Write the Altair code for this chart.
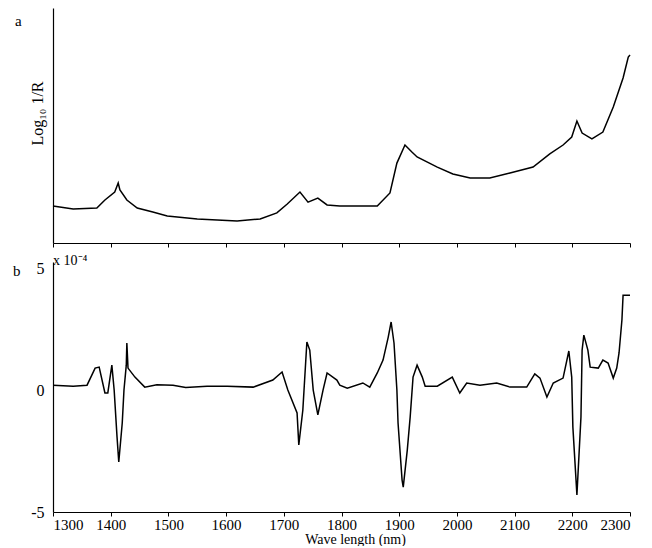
import altair as alt
import pandas as pd

# ---- data ----
ticks_x = [1300, 1400, 1500, 1600, 1700, 1800, 1900, 2000, 2100, 2200, 2300]

# panel a: log10(1/R) spectrum (arbitrary units, axis unlabeled)
wl_a = [1300, 1335, 1376, 1390, 1407, 1413, 1416, 1428, 1446, 1473,
        1498, 1550, 1619, 1659, 1688, 1706, 1728, 1742, 1759, 1775,
        1797, 1862, 1884, 1896, 1910, 1922, 1931, 1966, 1993, 2023,
        2057, 2092, 2132, 2161, 2184, 2199, 2208, 2217, 2234, 2253,
        2271, 2288, 2297, 2300]
logr = [0.157, 0.145, 0.149, 0.183, 0.217, 0.255, 0.226, 0.183, 0.149, 0.132,
        0.115, 0.102, 0.094, 0.102, 0.128, 0.166, 0.217, 0.174, 0.191, 0.162,
        0.157, 0.157, 0.213, 0.340, 0.417, 0.387, 0.366, 0.323, 0.294, 0.277,
        0.277, 0.298, 0.323, 0.379, 0.417, 0.451, 0.519, 0.468, 0.443, 0.472,
        0.579, 0.702, 0.791, 0.800]

# panel b: derivative spectrum (x 10^-4)
wl_b = [1300, 1335, 1359, 1373, 1380, 1390, 1395, 1402, 1406, 1411,
        1414, 1420, 1423, 1427, 1428, 1430, 1442, 1459, 1480, 1508,
        1530, 1567, 1602, 1647, 1681, 1697, 1707, 1723, 1726, 1733,
        1740, 1745, 1751, 1759, 1768, 1775, 1792, 1797, 1810, 1837,
        1849, 1862, 1872, 1881, 1886, 1891, 1896, 1898, 1905, 1907,
        1914, 1919, 1924, 1931, 1940, 1945, 1966, 1992, 2005, 2017,
        2040, 2069, 2092, 2121, 2135, 2144, 2156, 2167, 2184, 2194,
        2199, 2201, 2208, 2215, 2217, 2220, 2227, 2231, 2245, 2253,
        2262, 2271, 2277, 2281, 2286, 2288, 2300]
d2 = [0.20, 0.16, 0.20, 0.90, 0.94, -0.12, -0.12, 1.02, 0.00, -1.93,
      -2.95, -1.35, 0.00, 1.02, 1.93, 0.90, 0.53, 0.12, 0.22, 0.20,
      0.10, 0.16, 0.16, 0.12, 0.41, 0.74, 0.00, -0.94, -2.25, -0.82,
      1.97, 1.64, 0.00, -1.02, 0.00, 0.70, 0.41, 0.20, 0.08, 0.29,
      0.12, 0.70, 1.23, 2.17, 2.79, 1.93, 0.00, -1.35, -3.69, -3.98,
      -2.46, -1.11, 0.53, 1.02, 0.53, 0.16, 0.16, 0.53, -0.12, 0.29,
      0.20, 0.29, 0.12, 0.12, 0.66, 0.49, -0.29, 0.29, 0.49, 1.60,
      0.53, -1.52, -4.30, -1.11, 1.64, 2.25, 1.64, 0.94, 0.90, 1.23,
      1.11, 0.49, 0.90, 1.52, 2.87, 3.89, 3.89]

FONT = "Liberation Serif"

top_df = pd.DataFrame({"wl": wl_a, "v": logr})
bot_df = pd.DataFrame({"wl": wl_b, "v": d2})

# ---- panel a ----
line_top = alt.Chart(top_df).mark_line(color="black", strokeWidth=1.5).encode(
    x=alt.X("wl:Q", scale=alt.Scale(domain=[1300, 2300], nice=False),
            axis=alt.Axis(values=ticks_x, labels=False, title=None, tickSize=4, grid=False)),
    y=alt.Y("v:Q", scale=alt.Scale(domain=[0, 1], nice=False),
            axis=alt.Axis(labels=False, ticks=False, grid=False, title="Log₁₀ 1/R",
                          titleFont=FONT, titlePadding=8, titleFontSize=16,
                          titleFontWeight="normal", titleY=105)),
)
a_text = alt.Chart(pd.DataFrame({"t": ["a"]})).mark_text(
    font=FONT, fontSize=15, align="left", baseline="alphabetic", color="black"
).encode(x=alt.value(-38), y=alt.value(18), text="t:N")

top = alt.layer(line_top, a_text).properties(width=577, height=235)

# ---- panel b ----
line_bot = alt.Chart(bot_df).mark_line(color="black", strokeWidth=1.5).encode(
    x=alt.X("wl:Q", scale=alt.Scale(domain=[1300, 2300], nice=False),
            axis=alt.Axis(values=ticks_x, format="d", tickSize=4, grid=False,
                          labelFont=FONT, labelFontSize=15, labelPadding=1,
                          title="Wave length (nm)", titleFont=FONT, titleFontSize=14,
                          titleFontWeight="normal", titlePadding=0, titleX=302)),
    y=alt.Y("v:Q", scale=alt.Scale(domain=[-5, 5.25], nice=False),
            axis=alt.Axis(values=[-5, 0, 5], ticks=False, grid=False,
                          labelFont=FONT, labelFontSize=16,
                          labelPadding=9, labelExpr="'' + datum.value", title=None)),
)
b_text = alt.Chart(pd.DataFrame({"t": ["b"]})).mark_text(
    font=FONT, fontSize=15, align="left", baseline="alphabetic", color="black"
).encode(x=alt.value(-40), y=alt.value(14), text="t:N")
exp_text = alt.Chart(pd.DataFrame({"t": ["x 10⁻⁴"]})).mark_text(
    font=FONT, fontSize=14, align="left", baseline="alphabetic", color="black"
).encode(x=alt.value(0), y=alt.value(3), text="t:N")

bottom = alt.layer(line_bot, b_text, exp_text).properties(width=577, height=250)

chart = alt.vconcat(top, bottom, spacing=6).properties(
    padding={"left": 5, "top": 0, "right": 5, "bottom": 0},
    background="white",
).configure_axis(
    domainColor="black", tickColor="black", labelColor="black", titleColor="black",
    labelFont=FONT, titleFont=FONT, domainWidth=1.2,
).configure_view(stroke=None)

chart.save("out.html", embed_options={"renderer": "svg", "actions": False})
